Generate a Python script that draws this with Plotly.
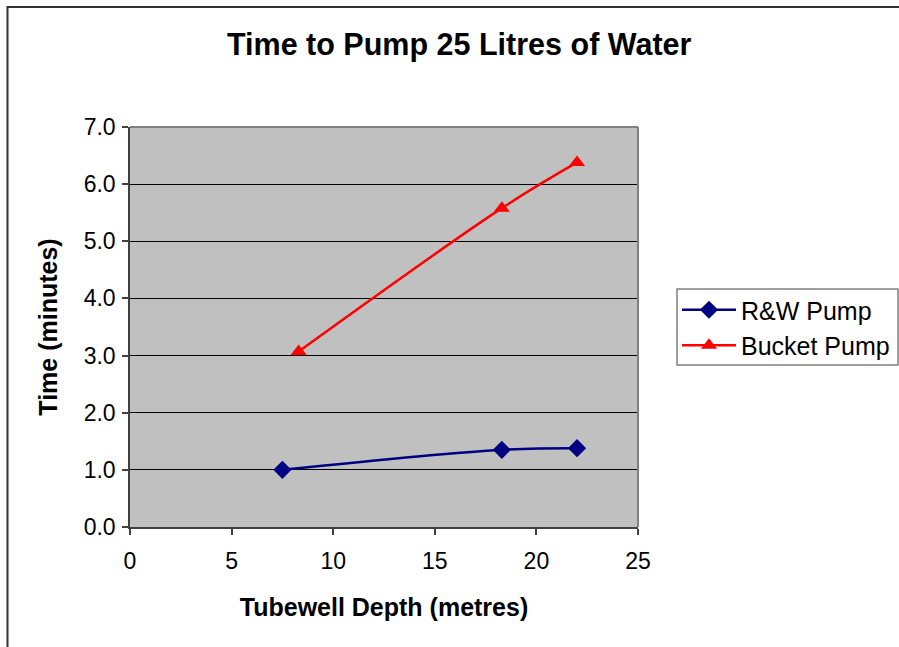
import plotly.graph_objects as go

depth_rw = [7.5, 18.3, 22.0]
time_rw = [1.0, 1.35, 1.38]
depth_bucket = [8.3, 18.3, 22.0]
time_bucket = [3.07, 5.58, 6.38]
x_ticks = [0, 5, 10, 15, 20, 25]
y_ticks = [0, 1, 2, 3, 4, 5, 6, 7]

FONT = "Liberation Sans, Arial, sans-serif"

fig = go.Figure()
fig.add_trace(go.Scatter(
    x=depth_rw, y=time_rw, name="R&W Pump", mode="lines+markers",
    line=dict(color="#000080", width=2.5, shape="spline"),
    marker=dict(symbol="diamond", size=14, color="#000080"),
))
fig.add_trace(go.Scatter(
    x=depth_bucket, y=time_bucket, name="Bucket Pump", mode="lines+markers",
    line=dict(color="#FF0000", width=2.5, shape="spline"),
    marker=dict(symbol="triangle-up", size=14, color="#FF0000"),
))

L, R, T, B = 130, 638, 127, 527
W, H = 899, 647

def px2x(px):
    return (px - L) / (R - L)

def py2y(py):
    return (B - py) / (B - T)

fig.update_layout(
    width=W, height=H,
    margin=dict(l=L, r=W - R, t=T, b=H - B, pad=0, autoexpand=False),
    paper_bgcolor="white",
    plot_bgcolor="#C0C0C0",
    font=dict(family=FONT, size=23, color="black"),
    showlegend=True,
    legend=dict(
        x=px2x(677), y=py2y(287), xanchor="left", yanchor="top",
        borderwidth=0, bgcolor="rgba(0,0,0,0)",
        font=dict(family=FONT, size=25, color="black"),
        itemwidth=54, tracegroupgap=0,
    ),
    xaxis=dict(
        range=[0, 25], tickvals=x_ticks, ticktext=[str(v) for v in x_ticks],
        showgrid=False, zeroline=False, showline=True, linecolor="#404040", linewidth=1.5,
        ticks="outside", ticklen=6, tickcolor="#404040", tickwidth=1.5,
        tickfont=dict(size=23), mirror=False, ticklabelstandoff=7,
        title=dict(text="<b>Tubewell Depth (metres)</b>", font=dict(size=25), standoff=25),
    ),
    yaxis=dict(
        range=[0, 7], tickvals=y_ticks, ticktext=[f"{v:.1f}" for v in y_ticks],
        showgrid=True, gridcolor="black", gridwidth=1, zeroline=False,
        showline=True, linecolor="#404040", linewidth=1.5,
        ticks="outside", ticklen=6, tickcolor="#404040", tickwidth=1.5,
        tickfont=dict(size=23), ticklabelstandoff=2,
        title=dict(text="<b>Time (minutes)</b>", font=dict(size=25), standoff=19),
    ),
    annotations=[dict(
        text="<b>Time to Pump 25 Litres of Water</b>", xref="paper", yref="paper",
        x=px2x(459), y=py2y(45), xanchor="center", yanchor="middle",
        showarrow=False, font=dict(family=FONT, size=30.5, color="black"),
    )],
    shapes=[
        dict(type="line", xref="paper", yref="paper", x0=0, x1=1, y0=1, y1=1,
             line=dict(color="#808080", width=2)),
        dict(type="line", xref="paper", yref="paper", x0=1, x1=1, y0=0, y1=1,
             line=dict(color="#808080", width=2)),
        # legend frame
        dict(type="rect", xref="paper", yref="paper", layer="below",
             x0=px2x(677), x1=px2x(898), y0=py2y(365), y1=py2y(289),
             fillcolor="white", line=dict(color="#808080", width=1.5)),
        # outer chart frame
        dict(type="rect", xref="paper", yref="paper", layer="above",
             x0=px2x(7.5), x1=px2x(920), y0=py2y(7), y1=py2y(680),
             line=dict(color="#303030", width=2)),
    ],
)

fig.write_html("out.html")
